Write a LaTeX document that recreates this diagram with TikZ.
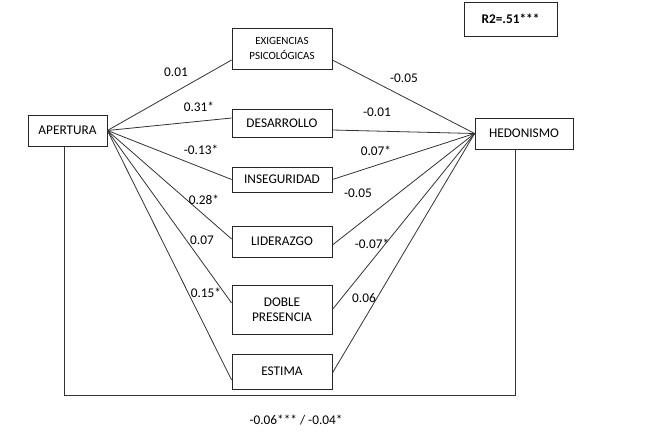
\documentclass[tikz,border=0pt]{standalone}
\usepackage{fontspec}
\setmainfont{Carlito}

\begin{document}
\begin{tikzpicture}[x=1pt,y=-1pt,
  var/.style={draw=black!85,line width=0.8pt,align=center,inner sep=0pt,
    font=\fontsize{13.3}{15}\selectfont},
  small/.style={font=\fontsize{11}{15}\selectfont},
  coef/.style={font=\fontsize{13.3}{15}\selectfont,inner sep=0pt},
  path/.style={draw=black!80,line width=0.8pt}]
\useasboundingbox (0,0) rectangle (649,432);
% variables
\node[var,minimum width=79pt,minimum height=31pt] (apertura) at (67.5,130.5) {APERTURA};
\node[var,small,minimum width=100pt,minimum height=41pt] (exig) at (282,48.5) {EXIGENCIAS\\PSICOLÓGICAS};
\node[var,minimum width=100pt,minimum height=28pt] (desarr) at (282,123) {DESARROLLO};
\node[var,minimum width=100pt,minimum height=25pt] (inseg) at (282,179.5) {INSEGURIDAD};
\node[var,minimum width=100pt,minimum height=31pt] (lider) at (282,241.5) {LIDERAZGO};
\node[var,minimum width=100pt,minimum height=49pt] (doble) at (282,309.5) {DOBLE\\PRESENCIA};
\node[var,minimum width=100pt,minimum height=35pt] (estima) at (282,371.5) {ESTIMA};
\node[var,minimum width=98pt,minimum height=31pt] (hedon) at (524,133.5) {HEDONISMO};
\node[var,minimum width=93pt,minimum height=34pt,font=\fontsize{13.3}{15}\selectfont\bfseries] (r2) at (510.5,19) {R2=.51***};
% apertura -> mediadores
\draw[path] (apertura.east) -- ([yshift=-11.5pt]exig.west);
\draw[path] (apertura.east) -- ([yshift=5pt]desarr.west);
\draw[path] (apertura.east) -- (inseg.west);
\draw[path] (apertura.east) -- ([yshift=2.5pt]lider.west);
\draw[path] (apertura.east) -- ([yshift=6.5pt]doble.west);
\draw[path] (apertura.east) -- ([yshift=-8.5pt]estima.west);
% mediadores -> hedonismo
\draw[path] ([yshift=-11.5pt]exig.east) -- (hedon.west);
\draw[path] ([yshift=-7pt]desarr.east) -- (hedon.west);
\draw[path] (inseg.east) -- (hedon.west);
\draw[path] ([yshift=-3.5pt]lider.east) -- (hedon.west);
\draw[path] (doble.east) -- (hedon.west);
\draw[path] ([yshift=-1.5pt]estima.east) -- (hedon.west);
% efecto directo
\coordinate (cl) at (64,395);
\coordinate (cr) at (515,395);
\draw[path] (apertura.south -| cl) -- (cl) -- (cr) -- (hedon.south -| cr);
% coeficientes
\node[coef] (c1) at (176,72) {0.01};
\node[coef] (c2) at (199,107) {0.31*};
\node[coef] (c3) at (201,150) {-0.13*};
\node[coef] (c4) at (204,200) {0.28*};
\node[coef] (c5) at (202,240) {0.07};
\node[coef] (c6) at (206,293) {0.15*};
\node[coef] (d1) at (404,78) {-0.05};
\node[coef] (d2) at (377,112) {-0.01};
\node[coef] (d3) at (376,151) {0.07*};
\node[coef] (d4) at (358,193) {-0.05};
\node[coef] (d5) at (372,244) {-0.07*};
\node[coef] (d6) at (364,298) {0.06};
\node[coef] (tot) at (296,420) {-0.06*** / -0.04*};
\end{tikzpicture}
\end{document}
